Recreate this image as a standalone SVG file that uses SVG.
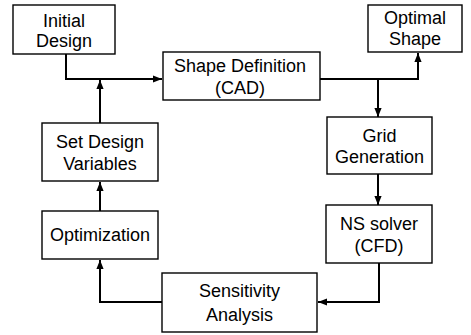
<svg xmlns="http://www.w3.org/2000/svg" width="471" height="335" viewBox="0 0 471 335">
<style>
.box{fill:#fff;stroke:#000;stroke-width:1.4}
.t{font-family:"Liberation Sans",Arial,sans-serif;font-size:18px;fill:#000;text-anchor:middle}
.c{fill:none;stroke:#000;stroke-width:2}
</style>
<defs>
<marker id="a" viewBox="0 0 10 10" refX="10" refY="5" markerWidth="4.5" markerHeight="4.5" orient="auto" markerUnits="strokeWidth">
<path d="M0,1 L10,5 L0,9 z" fill="#000"/>
</marker>
</defs>
<rect width="471" height="335" fill="#fff"/>
<g id="connectors">
<path class="c" d="M66,54 V79 H162" marker-end="url(#a)"/>
<path class="c" d="M100,123 V80" marker-end="url(#a)"/>
<path class="c" d="M320,79 H418 V53" marker-end="url(#a)"/>
<path class="c" d="M378,79 V117" marker-end="url(#a)"/>
<path class="c" d="M378,174 V205" marker-end="url(#a)"/>
<path class="c" d="M379,263 V302 H318" marker-end="url(#a)"/>
<path class="c" d="M162,302 H100 V260" marker-end="url(#a)"/>
<path class="c" d="M100,211 V182" marker-end="url(#a)"/>
</g>
<g id="initial-design">
<rect class="box" x="13" y="5" width="102" height="49"/>
<text class="t" x="64" y="27">Initial</text>
<text class="t" x="64" y="47">Design</text>
</g>
<g id="shape-definition">
<rect class="box" x="163" y="52" width="157" height="48"/>
<text class="t" x="240" y="72">Shape Definition</text>
<text class="t" x="240" y="94">(CAD)</text>
</g>
<g id="optimal-shape">
<rect class="box" x="368" y="5" width="94" height="47"/>
<text class="t" x="415" y="24">Optimal</text>
<text class="t" x="415" y="45">Shape</text>
</g>
<g id="grid-generation">
<rect class="box" x="327" y="117" width="105" height="57"/>
<text class="t" x="379.5" y="142">Grid</text>
<text class="t" x="379.5" y="163">Generation</text>
</g>
<g id="ns-solver">
<rect class="box" x="326" y="205" width="106" height="58"/>
<text class="t" x="379" y="230">NS solver</text>
<text class="t" x="379" y="252">(CFD)</text>
</g>
<g id="sensitivity-analysis">
<rect class="box" x="162" y="273" width="155" height="59"/>
<text class="t" x="239.5" y="297">Sensitivity</text>
<text class="t" x="239.5" y="321">Analysis</text>
</g>
<g id="optimization">
<rect class="box" x="42" y="211" width="116" height="48"/>
<text class="t" x="100" y="241">Optimization</text>
</g>
<g id="set-design-variables">
<rect class="box" x="42" y="123" width="116" height="58"/>
<text class="t" x="100" y="148">Set Design</text>
<text class="t" x="100" y="170">Variables</text>
</g>
</svg>
